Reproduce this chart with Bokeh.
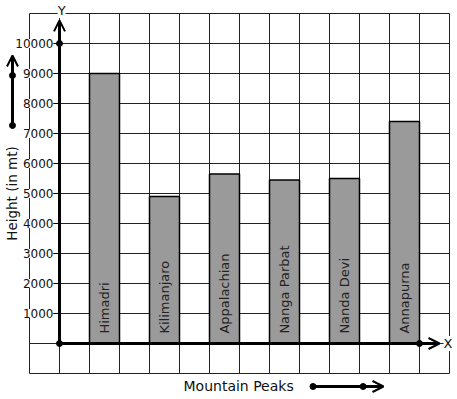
import numpy as np
from bokeh.plotting import figure
from bokeh.models import Range1d, ColumnDataSource, Arrow, OpenHead
from bokeh.core.properties import value
from bokeh.embed import file_html
from bokeh.resources import INLINE

# ---- data ----
peaks = ["Himadri", "Kilimanjaro", "Appalachian", "Nanga Parbat", "Nanda Devi", "Annapurna"]
heights = [9000, 4900, 5650, 5450, 5500, 7400]
bar_slots = [1, 3, 5, 7, 9, 11]          # grid column where each bar starts
y_ticks = [1000, 2000, 3000, 4000, 5000, 6000, 7000, 8000, 9000, 10000]
y_tick_labels = ["1000", "2000", "3000", "4000", "5000", "6000", "7000", "8000", "9000", "10000"]
x_title = "Mountain Peaks"
y_title = "Height (in mt)"

FONT = value("DejaVu Sans")
GRID = "#222222"

W, H = 452, 395
p = figure(width=W, height=H, output_backend="svg", toolbar_location=None,
           x_axis_location=None, y_axis_location=None,
           x_range=Range1d(-59 / 30, (W - 59) / 30),
           y_range=Range1d((343 - H) / 0.03, 343 / 0.03),
           min_border=0, min_border_left=0, min_border_right=0,
           min_border_top=0, min_border_bottom=0)
p.title.visible = False
p.outline_line_color = None
p.xgrid.visible = False
p.ygrid.visible = False
p.background_fill_color = "white"
p.border_fill_color = "white"

# ---- square grid ----
gx = list(range(-1, 14))
p.segment(x0=gx, y0=[-1000] * len(gx), x1=gx, y1=[11000] * len(gx),
          line_color=GRID, line_width=1)
gy = list(range(-1000, 11001, 1000))
p.segment(x0=[-1] * len(gy), y0=gy, x1=[13] * len(gy), y1=gy,
          line_color=GRID, line_width=1)

# ---- bars ----
src = ColumnDataSource(dict(x=[s + 0.5 for s in bar_slots], top=heights, name=peaks))
p.vbar(x="x", width=1, bottom=0, top="top", source=src,
       fill_color="#9a9a9a", line_color="black", line_width=1.5)
p.text(x="x", y=330, text="name", source=src, angle=np.pi / 2,
       text_align="left", text_baseline="middle", text_font=FONT,
       text_font_size="13px", text_color="#222222")

# ---- axes with arrows ----
p.add_layout(Arrow(x_start=0, y_start=0, x_end=0, y_end=10770,
                   line_width=3, line_color="black",
                   end=OpenHead(size=11, line_width=2, line_color="black")))
p.add_layout(Arrow(x_start=0, y_start=0, x_end=12.667, y_end=0,
                   line_width=3, line_color="black",
                   end=OpenHead(size=11, line_width=2, line_color="black")))
p.scatter(x=[0, 0, 12], y=[0, 10000, 0], size=6, color="black")

# tick labels
p.text(x=[-0.2] * len(y_ticks), y=y_ticks, text=y_tick_labels,
       text_align="right", text_baseline="middle", text_font=FONT,
       text_font_size="12px", text_color="#111111",
       background_fill_color="white")
p.segment(x0=[-0.2] * len(y_ticks), y0=y_ticks, x1=[0] * len(y_ticks), y1=y_ticks,
          line_color="black", line_width=1)

# axis letters
p.text(x=[0.07], y=[11100], text=["Y"], text_align="center", text_baseline="middle",
       text_font=FONT, text_font_size="13px", text_color="#111111",
       background_fill_color="white")
p.text(x=[12.8], y=[0], text=["X"], text_align="left", text_baseline="middle",
       text_font=FONT, text_font_size="13px", text_color="#111111",
       background_fill_color="white")

# axis titles
p.text(x=[-1.57], y=[5000], text=[y_title], angle=np.pi / 2,
       text_align="center", text_baseline="middle", text_font=FONT,
       text_font_size="13.5px", text_color="#111111")
p.text(x=[5.97], y=[-1433], text=[x_title], text_align="center",
       text_baseline="middle", text_font=FONT, text_font_size="14px",
       text_color="#111111")

# direction arrows
p.add_layout(Arrow(x_start=-1.567, y_start=7267, x_end=-1.567, y_end=9600,
                   line_width=3, line_color="black",
                   end=OpenHead(size=11, line_width=2, line_color="black")))
p.scatter(x=[-1.567, -1.567], y=[7267, 8933], size=6, color="black")
p.add_layout(Arrow(x_start=8.45, y_start=-1433, x_end=10.8, y_end=-1433,
                   line_width=3, line_color="black",
                   end=OpenHead(size=11, line_width=2, line_color="black")))
p.scatter(x=[8.45, 10.12], y=[-1433, -1433], size=6, color="black")

open("out.html", "w").write(file_html(p, INLINE))
